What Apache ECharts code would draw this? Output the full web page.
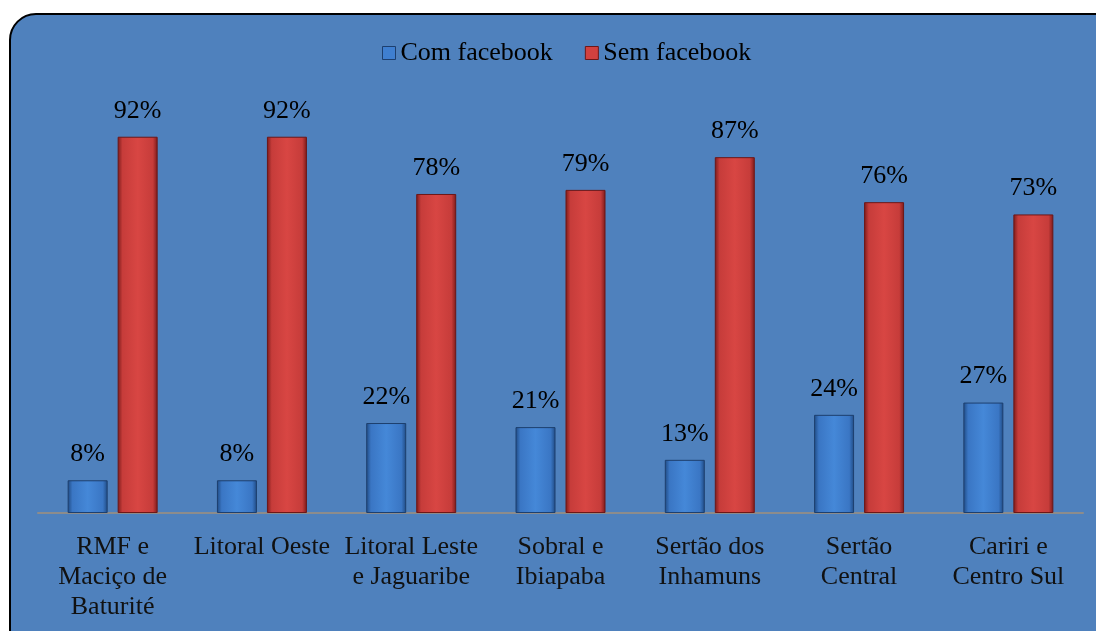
<!DOCTYPE html>
<html>
<head>
<meta charset="utf-8">
<script src="https://cdn.jsdelivr.net/npm/echarts@6/dist/echarts.min.js"></script>
<style>
  html, body { margin: 0; padding: 0; background: #ffffff; }
  #chart { width: 1096px; height: 631px; }
</style>
</head>
<body>
<div id="chart"></div>
<script>
const categories = [
  'RMF e\nMaciço de\nBaturité',
  'Litoral Oeste',
  'Litoral Leste\ne Jaguaribe',
  'Sobral e\nIbiapaba',
  'Sertão dos\nInhamuns',
  'Sertão\nCentral',
  'Cariri e\nCentro Sul'
];
const comFacebook = [8, 8, 22, 21, 13, 24, 27];
const semFacebook = [92, 92, 78, 79, 87, 76, 73];

const serif = '"Liberation Serif", "Times New Roman", serif';

function barGradient (edge, mid, light) {
  return new echarts.graphic.LinearGradient(0, 0, 1, 0, [
    { offset: 0, color: edge },
    { offset: 0.12, color: mid },
    { offset: 0.5, color: light },
    { offset: 0.88, color: mid },
    { offset: 1, color: edge }
  ]);
}

const valueLabel = {
  show: true,
  position: 'top',
  distance: 13,
  formatter: '{c}%',
  fontFamily: serif,
  fontSize: 26,
  color: '#000'
};

const option = {
  animation: false,
  backgroundColor: '#ffffff',
  graphic: [{
    type: 'rect',
    z: -10,
    shape: { x: 10, y: 14, width: 1120, height: 660, r: 26 },
    style: { fill: '#4f81bd', stroke: '#000', lineWidth: 2 }
  }],
  legend: {
    top: 35,
    left: 377,
    itemWidth: 13,
    itemHeight: 13,
    itemGap: 32,
    icon: 'rect',
    textStyle: { fontFamily: serif, fontSize: 26, color: '#000' },
    data: [
      { name: 'Com facebook', itemStyle: { color: '#3f7fd0', borderColor: '#1d3f6e', borderWidth: 1 } },
      { name: 'Sem facebook', itemStyle: { color: '#d2413f', borderColor: '#6e1717', borderWidth: 1 } }
    ]
  },
  grid: { left: 38, right: 13, top: 104, bottom: 118 },
  xAxis: {
    type: 'category',
    data: categories,
    axisLine: { lineStyle: { color: '#8c8c8c', width: 2 } },
    axisTick: { show: false },
    axisLabel: {
      interval: 0,
      margin: 19,
      fontFamily: serif,
      fontSize: 26,
      lineHeight: 30,
      color: '#111'
    }
  },
  yAxis: {
    type: 'value',
    min: 0,
    max: 100,
    show: false,
    splitLine: { show: false }
  },
  series: [
    {
      name: 'Com facebook',
      type: 'bar',
      barWidth: 40,
      barGap: '25%',
      data: comFacebook,
      label: valueLabel,
      itemStyle: {
        color: barGradient('#1f4a82', '#3a76c4', '#4588d8'),
        borderColor: '#1d3f6e',
        borderWidth: 1
      }
    },
    {
      name: 'Sem facebook',
      type: 'bar',
      barWidth: 40,
      data: semFacebook,
      label: valueLabel,
      itemStyle: {
        color: barGradient('#7a1a1a', '#c63c3a', '#d84643'),
        borderColor: '#6e1717',
        borderWidth: 1
      }
    }
  ]
};

const myChart = echarts.init(document.getElementById('chart'));
myChart.setOption(option);
</script>
</body>
</html>
